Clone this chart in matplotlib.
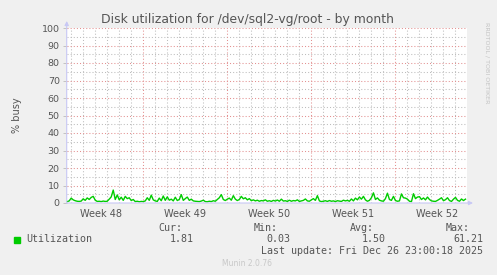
import numpy as np
import matplotlib
matplotlib.use("Agg")
import matplotlib.pyplot as plt
from datetime import datetime, timedelta
import matplotlib.dates as mdates

# ---- data ----
title = "Disk utilization for /dev/sql2-vg/root - by month"
ylabel = "% busy"
week_labels = ["Week 48", "Week 49", "Week 50", "Week 51", "Week 52"]
week_starts = [datetime(2025, 11, 24), datetime(2025, 12, 1), datetime(2025, 12, 8),
               datetime(2025, 12, 15), datetime(2025, 12, 22)]
series_name = "Utilization"
stat_names = ["Cur:", "Min:", "Avg:", "Max:"]
stat_values = ["1.81", "0.03", "1.50", "61.21"]
last_update = "Last update: Fri Dec 26 23:00:18 2025"
footer = "Munin 2.0.76"
side_text = "RRDTOOL / TOBI OETIKER"

utilization = [
    0.8, 1.2, 2.8, 1.8, 1.3, 1.0, 0.9, 1.1, 2.4, 1.5,
    2.9, 2.0, 3.2, 3.8, 1.6, 0.9, 1.0, 0.8, 1.1, 0.9,
    1.0, 2.2, 3.5, 7.4, 2.0, 4.6, 1.8, 3.3, 1.5, 3.8,
    2.5, 3.0, 1.4, 2.0, 0.8, 1.0, 0.7, 0.9, 0.8, 1.2,
    3.0, 1.5, 4.5, 1.8, 1.2, 0.9, 2.8, 1.3, 4.0, 1.5,
    3.5, 1.6, 2.2, 1.2, 3.3, 1.4, 2.0, 4.8, 1.5, 2.5,
    3.4, 1.5, 2.2, 1.2, 1.0, 0.9, 0.8, 1.1, 1.6, 0.8,
    0.7, 1.0, 0.8, 1.3, 1.0, 2.0, 3.0, 4.8, 2.0, 1.4,
    2.2, 2.8, 1.6, 4.2, 2.2, 1.4, 2.0, 3.8, 2.4, 3.0,
    1.8, 2.5, 1.3, 1.8, 1.2, 1.6, 1.0, 1.4, 1.2, 1.8,
    1.0, 1.3, 0.9, 1.5, 1.1, 1.7, 1.0, 2.2, 1.1, 1.3,
    0.9, 1.6, 1.0, 1.4, 1.2, 1.8, 0.9, 1.2, 1.5, 2.3,
    1.2, 1.0, 1.8, 2.5, 1.5, 4.2, 1.2, 0.8, 1.0, 1.3,
    0.9, 1.4, 1.0, 1.2, 0.8, 1.3, 1.1, 0.9, 1.6, 1.2,
    1.5, 1.0, 2.3, 1.2, 2.8, 1.8, 3.4, 2.2, 3.8, 1.8,
    1.0, 1.5, 3.0, 5.8, 2.0, 2.9, 1.6, 1.2, 1.0, 2.5,
    5.6, 2.0, 1.5, 3.8, 1.4, 1.0, 1.2, 5.2, 3.0, 2.8,
    2.2, 1.0, 0.8, 5.3, 2.5, 3.4, 3.6, 2.0, 2.9, 1.8,
    3.4, 2.0, 1.2, 1.0, 0.9, 1.5, 2.2, 3.0, 1.3, 1.9,
    3.0, 1.4, 0.9, 2.2, 3.2, 1.5, 1.0, 2.3, 1.4, 2.2,
]

# ---- time frame ----
t_start = datetime(2025, 11, 24, 16, 0)
t_end = t_start + timedelta(days=400 / 12)
times = [t_start + timedelta(hours=1 + 4 * i) for i in range(len(utilization))]

BG = "#F0F0F0"
TXT = "#555555"
MAJ = "#E39090"
MIN = "#BDBDBD"
AX = "#C8C8F5"

W, H = 497, 275
fig = plt.figure(figsize=(W / 100, H / 100), dpi=100, facecolor=BG)
L, R, T, B = 66.7, 467, 28, 203
ax = fig.add_axes([L / W, 1 - B / H, (R - L) / W, (B - T) / H])
ax.set_facecolor("white")

x0 = mdates.date2num(t_start)
x1 = mdates.date2num(t_end)
ax.set_xlim(x0, x1)
ax.set_ylim(0, 100)

for s in ax.spines.values():
    s.set_visible(False)

LW = 0.75
DOT = (0, (1, 2))
# grid
d = datetime(2025, 11, 25)
while d < t_end:
    if d not in week_starts:
        ax.axvline(mdates.date2num(d), color=MIN, lw=LW, ls=DOT, zorder=1)
    d += timedelta(days=1)
for y in range(5, 100, 10):
    ax.axhline(y, color=MIN, lw=LW, ls=DOT, zorder=1)
for y in range(10, 101, 10):
    ax.axhline(y, color=MAJ, lw=LW, ls=DOT, zorder=2)
for ws in week_starts[1:]:
    ax.axvline(mdates.date2num(ws), color=MAJ, lw=LW, ls=DOT, zorder=2)

# y ticks
ax.set_yticks(range(0, 101, 10))
ax.tick_params(axis="y", length=3, width=0.6, color="#BBBBBB", labelsize=6.8,
               labelcolor=TXT, pad=2)
# x tick labels at mid weeks
mids = [mdates.date2num(ws + timedelta(days=3.5)) for ws in week_starts]
ax.set_xticks(mids)
ax.set_xticklabels(week_labels)
ax.tick_params(axis="x", length=0, labelsize=7, labelcolor=TXT, pad=4)

# data
ax.plot(times, utilization, color="#00CC00", lw=1.0, zorder=5, clip_on=False)

# axis lines with arrows
ax.annotate("", xy=(0, 1.04), xytext=(0, 0), xycoords="axes fraction",
            arrowprops=dict(arrowstyle="-|>", color=AX, lw=0.8, mutation_scale=6,
                            shrinkA=0, shrinkB=0), zorder=6)
ax.annotate("", xy=(1.015, 0), xytext=(0, 0), xycoords="axes fraction",
            arrowprops=dict(arrowstyle="-|>", color=AX, lw=0.8, mutation_scale=6,
                            shrinkA=0, shrinkB=0), zorder=6)

# texts
fig.text(247.5 / W, 1 - 19 / H, title, ha="center", va="center", fontsize=8.9, color=TXT)
fig.text(17 / W, 1 - 115 / H, ylabel, ha="center", va="center", rotation=90,
         fontsize=7, color=TXT)
fig.text(487 / W, 1 - 63 / H, side_text, ha="center", va="center", rotation=270,
         fontsize=4.6, color="#C4C4C4")

mono = "DejaVu Sans Mono"
fs = 7.2
hdr_right = [182, 278, 374, 470]
val_right = [194, 290, 386, 483]
for n, xr in zip(stat_names, hdr_right):
    fig.text(xr / W, 1 - 228 / H, n, ha="right", va="center", family=mono,
             fontsize=fs, color=TXT)
for v, xr in zip(stat_values, val_right):
    fig.text(xr / W, 1 - 239 / H, v, ha="right", va="center", family=mono,
             fontsize=fs, color=TXT)
fig.patches.append(plt.Rectangle((14 / W, 1 - 243 / H), 6 / W, 6 / H,
                                 transform=fig.transFigure, color="#00CC00"))
fig.text(26 / W, 1 - 239 / H, series_name, ha="left", va="center", family=mono,
         fontsize=fs, color=TXT)
fig.text(483 / W, 1 - 251 / H, last_update, ha="right", va="center", family=mono,
         fontsize=fs, color=TXT)
fig.text(247 / W, 1 - 264 / H, footer, ha="center", va="center", fontsize=5.5,
         color="#C8C8C8")

fig.savefig("out.png", dpi=100, facecolor=BG)
